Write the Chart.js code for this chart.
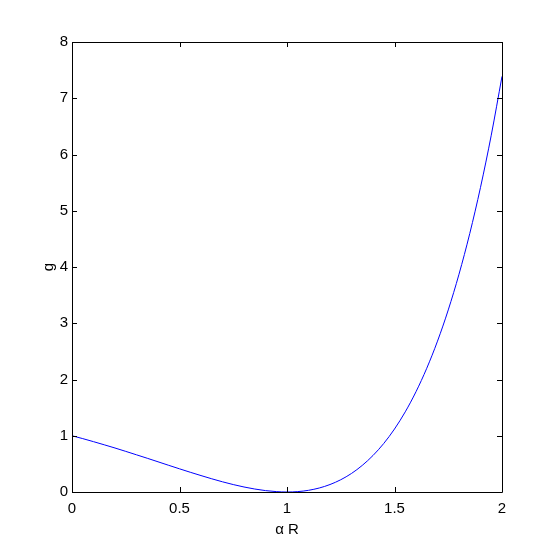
<!DOCTYPE html>
<html>
<head>
<meta charset="utf-8">
<script src="https://cdn.jsdelivr.net/npm/chart.js@4/dist/chart.umd.min.js"></script>
<style>
html,body{margin:0;padding:0;background:#fff;}
#wrap{width:554px;height:554px;}
</style>
</head>
<body>
<div id="wrap"><canvas id="c" width="554" height="554"></canvas></div>
<script>
// αR values (x) and g values
const alphaR = [0,0.05,0.1,0.15,0.2,0.25,0.3,0.35,0.4,0.45,0.5,0.55,0.6,0.65,0.7,0.75,0.8,0.85,0.9,0.95,
  1.0,1.05,1.1,1.15,1.2,1.25,1.3,1.35,1.4,1.45,1.5,1.55,1.6,1.65,1.7,1.75,1.8,1.85,1.9,1.95,2.0];
const gValues = [1.000,0.949,0.895,0.839,0.782,0.722,0.661,0.600,0.537,0.474,0.412,0.351,0.292,0.235,0.181,0.132,0.089,0.053,0.025,0.007,
  0.000,0.007,0.030,0.071,0.133,0.218,0.330,0.473,0.649,0.863,1.120,1.425,1.783,2.200,2.682,3.237,3.872,4.595,5.416,6.343,7.389];
const xTicks = [0,0.5,1,1.5,2];
const yTicks = [0,1,2,3,4,5,6,7,8];
const xTitle = 'α R';
const yTitle = 'g';

const points = alphaR.map((x,i)=>({x:x, y:gValues[i]}));

const FONT = "'Liberation Sans',Arial,Helvetica,sans-serif";
Chart.defaults.font.family = FONT;
Chart.defaults.font.size = 15;
Chart.defaults.color = '#000';

const frameTicks = {
  id:'frameTicks',
  afterDatasetsDraw(chart){
    const {ctx, chartArea:a, scales:{x,y}} = chart;
    const L = 5;
    ctx.save();
    ctx.strokeStyle = '#000';
    ctx.lineWidth = 1;
    ctx.beginPath();
    ctx.rect(Math.round(a.left)+0.5, Math.round(a.top)+0.5, Math.round(a.right-a.left), Math.round(a.bottom-a.top));
    ctx.stroke();
    ctx.beginPath();
    xTicks.forEach(v=>{
      const px = Math.round(x.getPixelForValue(v))+0.5;
      ctx.moveTo(px, a.bottom); ctx.lineTo(px, a.bottom-L);
      ctx.moveTo(px, a.top); ctx.lineTo(px, a.top+L);
    });
    yTicks.forEach(v=>{
      const py = Math.round(y.getPixelForValue(v))+0.5;
      ctx.moveTo(a.left, py); ctx.lineTo(a.left+L, py);
      ctx.moveTo(a.right, py); ctx.lineTo(a.right-L, py);
    });
    ctx.stroke();
    ctx.restore();
  }
};

new Chart(document.getElementById('c'), {
  type:'line',
  data:{datasets:[{
    data:points,
    borderColor:'#0000ff',
    borderWidth:1,
    pointRadius:0,
    fill:false,
    cubicInterpolationMode:'monotone'
  }]},
  options:{
    responsive:false,
    animation:false,
    layout:{padding:{left:0,right:52,top:42,bottom:0}},
    plugins:{legend:{display:false},tooltip:{enabled:false}},
    scales:{
      x:{
        type:'linear', min:0, max:2,
        afterFit(s){ s.height = 62; },
        afterBuildTicks(s){ s.ticks = xTicks.map(v=>({value:v})); },
        grid:{display:false, drawTicks:false},
        border:{display:false},
        ticks:{padding:8, maxRotation:0, autoSkip:false, callback:v=>String(v)},
        title:{display:true, text:xTitle, padding:{top:0,bottom:15.5}}
      },
      y:{
        type:'linear', min:0, max:8,
        afterFit(s){ s.width = 72; },
        afterBuildTicks(s){ s.ticks = yTicks.map(v=>({value:v})); },
        grid:{display:false, drawTicks:false},
        border:{display:false},
        ticks:{padding:4, autoSkip:false, callback:v=>String(v)},
        title:{display:true, text:yTitle, padding:{top:40,bottom:0}}
      }
    }
  },
  plugins:[frameTicks]
});
</script>
</body>
</html>
